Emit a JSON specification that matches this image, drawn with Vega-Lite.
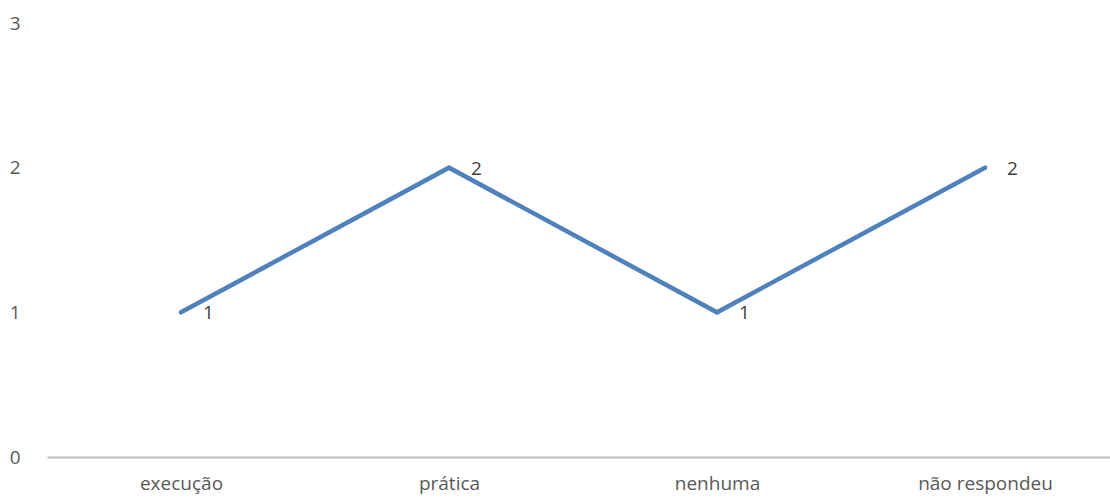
{
  "$schema": "https://vega.github.io/schema/vega-lite/v6.json",
  "width": 1072,
  "height": 434,
  "autosize": {"type": "none"},
  "padding": {"left": 47, "top": 23, "right": 0, "bottom": 46},
  "background": "white",
  "config": {
    "view": {"stroke": null},
    "font": "Open Sans",
    "axis": {"labelFont": "Open Sans", "labelColor": "#595959", "labelFontSize": 19, "grid": false, "ticks": false, "labelOverlap": false}
  },
  "data": {
    "values": [
      {"resposta": "execução", "total": 1},
      {"resposta": "prática", "total": 2},
      {"resposta": "nenhuma", "total": 1},
      {"resposta": "não respondeu", "total": 2}
    ]
  },
  "encoding": {
    "x": {
      "field": "resposta",
      "type": "nominal",
      "sort": null,
      "scale": {"type": "point", "padding": 0.5},
      "axis": {"title": null, "labelAngle": 0, "domainColor": "#BFBFBF", "domainWidth": 2, "labelPadding": 17}
    },
    "y": {
      "field": "total",
      "type": "quantitative",
      "scale": {"domain": [0, 3], "nice": false},
      "axis": {"title": null, "domain": false, "values": [0, 1, 2, 3], "labelPadding": 27, "labelFlush": false}
    }
  },
  "layer": [
    {
      "mark": {"type": "line", "color": "#4F81BD", "strokeWidth": 4.5, "strokeCap": "round", "strokeJoin": "miter"}
    },
    {
      "mark": {"type": "text", "align": "left", "baseline": "middle", "dx": 22, "dy": 1, "fontSize": 19, "color": "#404040", "font": "Open Sans"},
      "encoding": {"text": {"field": "total", "type": "quantitative"}}
    }
  ]
}
